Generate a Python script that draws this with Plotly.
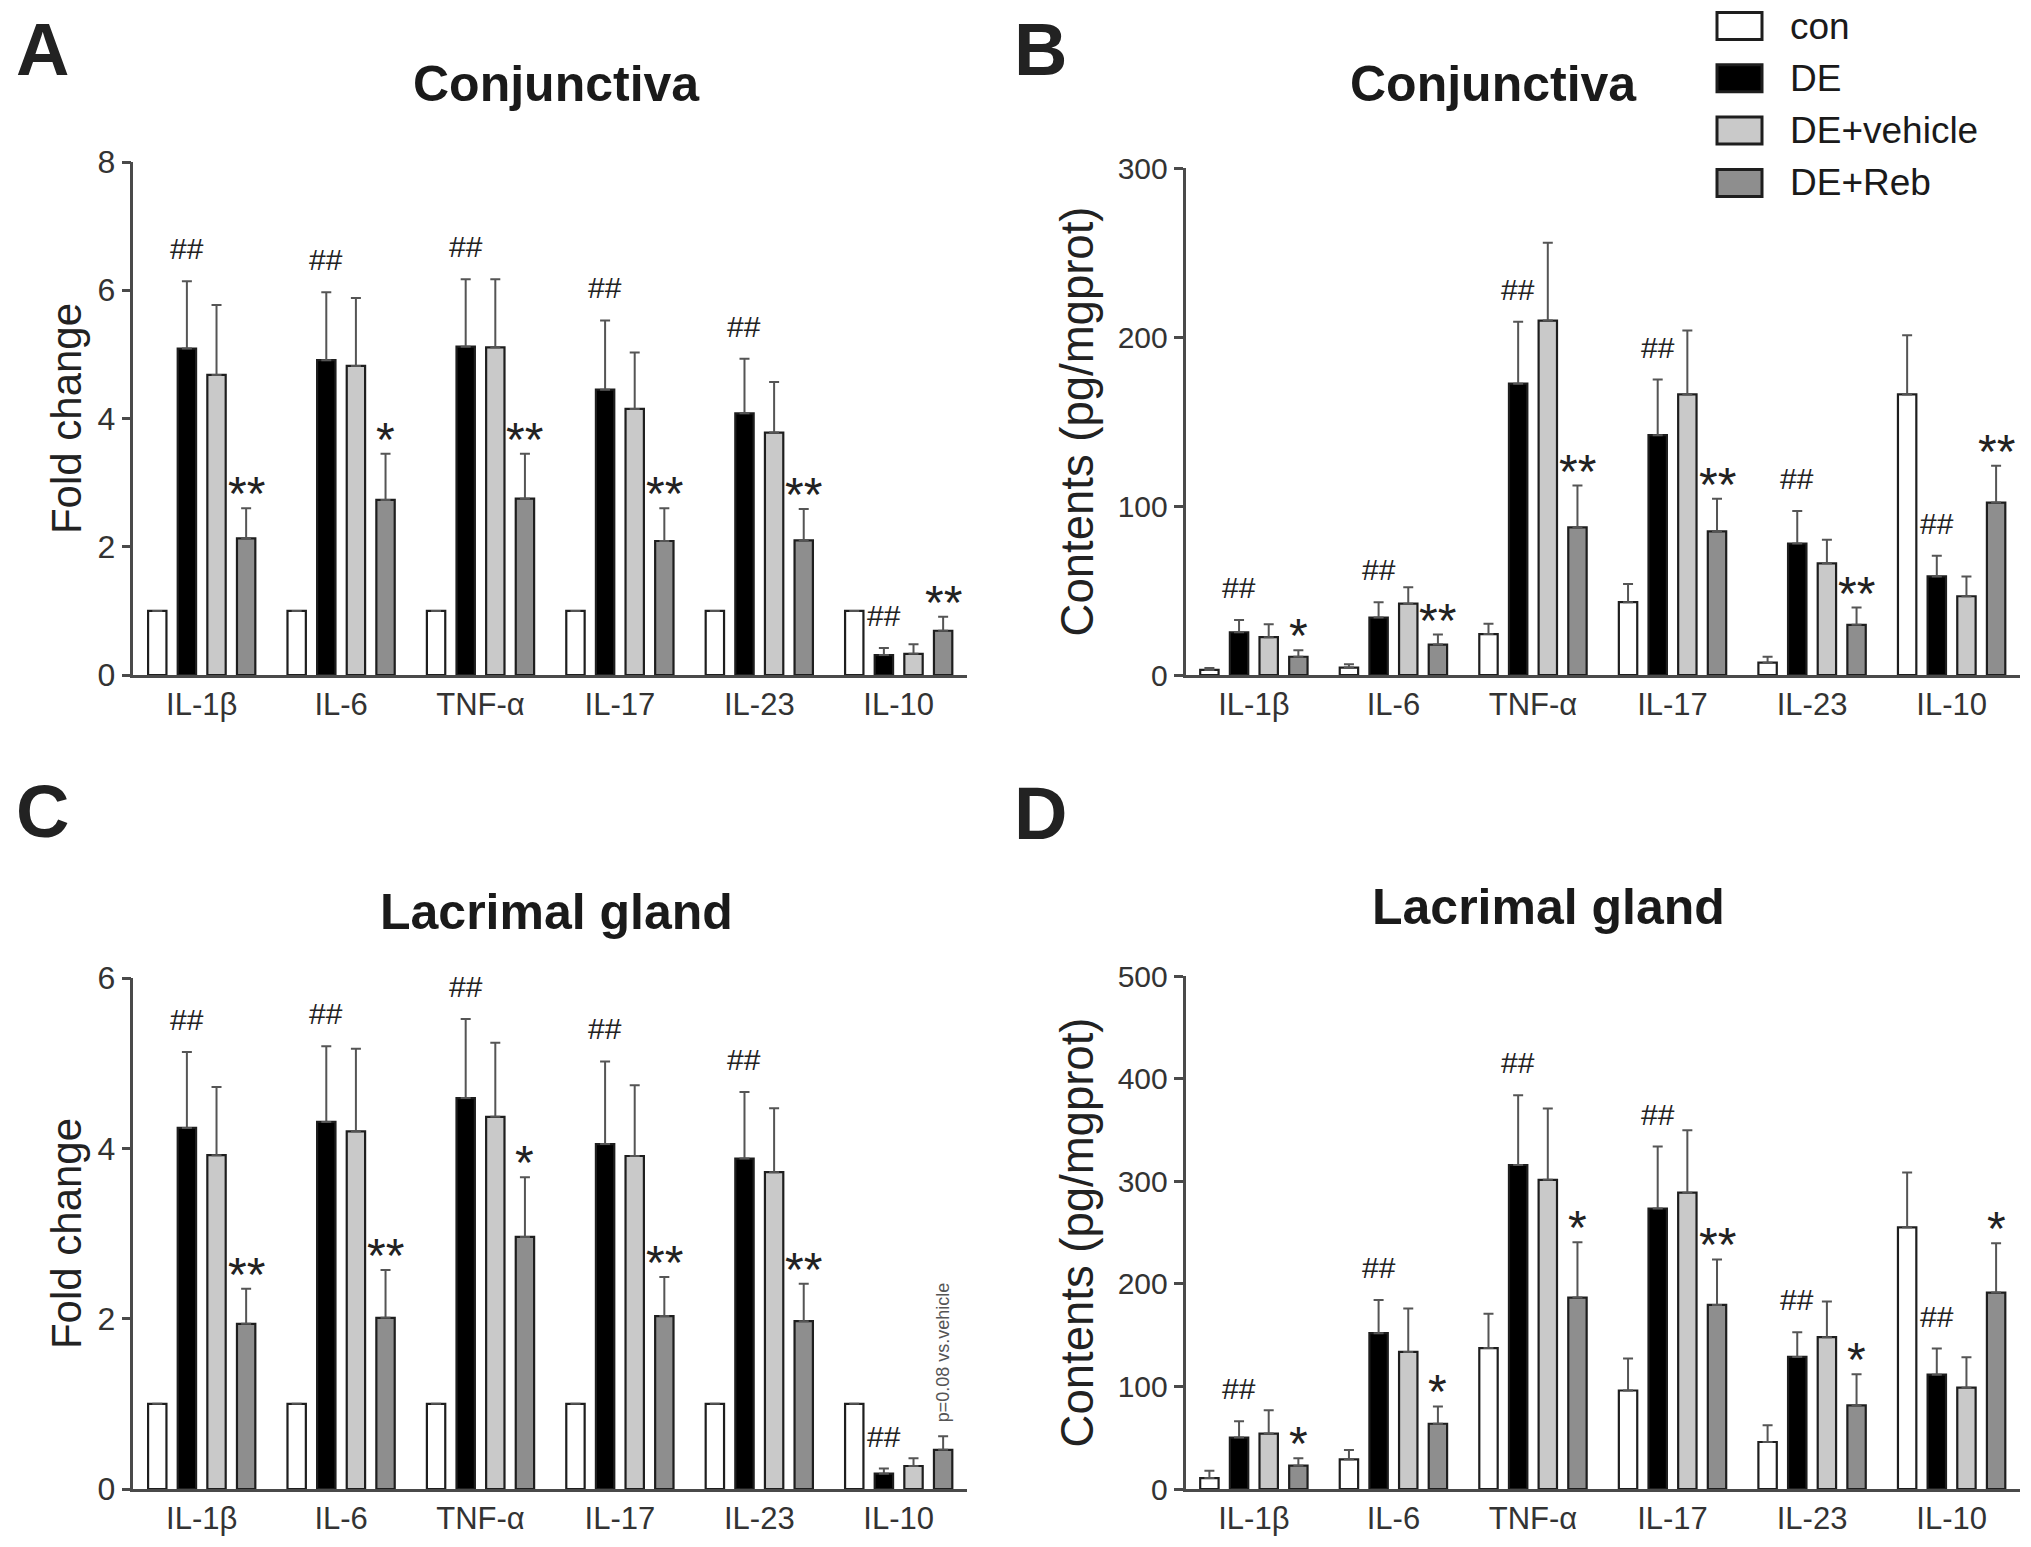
import plotly.graph_objects as go

W, H = 2031, 1547
FONT = "Liberation Sans, Arial, sans-serif"

cytokines = ["IL-1β", "IL-6", "TNF-α", "IL-17", "IL-23", "IL-10"]
groups = ["con", "DE", "DE+vehicle", "DE+Reb"]

# A: conjunctiva, fold change (mean, SEM)
a_con = [1, 1, 1, 1, 1, 1]
a_con_err = [0, 0, 0, 0, 0, 0]
a_de = [5.09, 4.91, 5.12, 4.45, 4.08, 0.31]
a_de_err = [1.05, 1.06, 1.05, 1.08, 0.85, 0.11]
a_veh = [4.68, 4.82, 5.11, 4.15, 3.78, 0.33]
a_veh_err = [1.09, 1.06, 1.06, 0.88, 0.79, 0.15]
a_reb = [2.13, 2.73, 2.75, 2.09, 2.10, 0.69]
a_reb_err = [0.47, 0.72, 0.70, 0.51, 0.49, 0.22]
a_de_sig = ["##", "##", "##", "##", "##", "##"]
a_reb_sig = ["**", "*", "**", "**", "**", "**"]

# B: conjunctiva, contents (pg/mgprot)
b_con = [3.0, 4.4, 24.2, 43.1, 7.3, 166]
b_con_err = [1.2, 2.0, 6.1, 10.8, 3.5, 35]
b_de = [25.3, 34.0, 172.4, 141.9, 77.8, 58.3]
b_de_err = [7.3, 9.0, 36.6, 32.9, 19.2, 12.2]
b_veh = [22.4, 42.2, 209.7, 166.0, 66.1, 46.6]
b_veh_err = [7.6, 9.7, 46.0, 37.9, 14.0, 11.7]
b_reb = [10.8, 18.0, 87.4, 85.0, 29.7, 102]
b_reb_err = [3.8, 5.9, 24.7, 19.3, 10.2, 21.8]
b_de_sig = ["##", "##", "##", "##", "##", "##"]
b_reb_sig = ["*", "**", "**", "**", "**", "**"]

# C: lacrimal gland, fold change
c_con = [1, 1, 1, 1, 1, 1]
c_con_err = [0, 0, 0, 0, 0, 0]
c_de = [4.24, 4.31, 4.59, 4.05, 3.88, 0.18]
c_de_err = [0.89, 0.89, 0.93, 0.97, 0.78, 0.06]
c_veh = [3.92, 4.20, 4.37, 3.91, 3.72, 0.27]
c_veh_err = [0.80, 0.97, 0.87, 0.83, 0.75, 0.09]
c_reb = [1.94, 2.01, 2.96, 2.03, 1.97, 0.46]
c_reb_err = [0.41, 0.56, 0.70, 0.46, 0.44, 0.16]
c_de_sig = ["##", "##", "##", "##", "##", "##"]
c_reb_sig = ["**", "**", "*", "**", "**", ""]
c_note = "p=0.08 vs.vehicle"

# D: lacrimal gland, contents (pg/mgprot)
d_con = [10.6, 28.9, 137.4, 96.0, 45.8, 255]
d_con_err = [7.2, 9.2, 33.3, 31.3, 16.4, 53.6]
d_de = [50.1, 151.9, 315.8, 273.4, 128.7, 111.4]
d_de_err = [15.9, 32.3, 68.0, 60.3, 24.1, 25.5]
d_veh = [54.0, 133.6, 301.3, 288.8, 148.0, 98.8]
d_veh_err = [22.7, 42.4, 69.5, 60.8, 34.7, 29.5]
d_reb = [22.7, 63.6, 186.6, 179.4, 81.5, 191.4]
d_reb_err = [7.2, 16.9, 54.0, 44.3, 30.4, 48.2]
d_de_sig = ["##", "##", "##", "##", "##", "##"]
d_reb_sig = ["*", "*", "*", "**", "*", "*"]

fills = ["white", "black", "#c9c9c9", "#8e8e8e"]
AX = "#4a4a4a"
BARGAP = 0.15
slot = (1 - BARGAP) / 4

panels = [
    dict(n="", letter="A", title="Conjunctiva", ytitle="Fold change", yr=[0, 8], dt=2, tf=32, tt=42, so=3,
         xd=[133.4, 967], yd=[675, 162], letter_xy=(42, 50), title_xy=(556, 84),
         means=[a_con, a_de, a_veh, a_reb], errs=[a_con_err, a_de_err, a_veh_err, a_reb_err],
         sig=(a_de_sig, a_reb_sig)),
    dict(n="2", letter="B", title="Conjunctiva", ytitle="Contents (pg/mgprot)", yr=[0, 300], dt=100, tf=30, tt=45.5,
         so=10, xd=[1185.5, 2020], yd=[675, 168], letter_xy=(1040, 50), title_xy=(1493, 84),
         means=[b_con, b_de, b_veh, b_reb], errs=[b_con_err, b_de_err, b_veh_err, b_reb_err],
         sig=(b_de_sig, b_reb_sig)),
    dict(n="3", letter="C", title="Lacrimal gland", ytitle="Fold change", yr=[0, 6], dt=2, tf=32, tt=42, so=3,
         xd=[133.4, 967], yd=[1489, 978], letter_xy=(42, 811), title_xy=(556, 912),
         means=[c_con, c_de, c_veh, c_reb], errs=[c_con_err, c_de_err, c_veh_err, c_reb_err],
         sig=(c_de_sig, c_reb_sig)),
    dict(n="4", letter="D", title="Lacrimal gland", ytitle="Contents (pg/mgprot)", yr=[0, 500], dt=100, tf=30, tt=45.5,
         so=10, xd=[1185.5, 2020], yd=[1489, 976], letter_xy=(1040, 813), title_xy=(1548, 907),
         means=[d_con, d_de, d_veh, d_reb], errs=[d_con_err, d_de_err, d_veh_err, d_reb_err],
         sig=(d_de_sig, d_reb_sig)),
]

fig = go.Figure()
annotations = []
layout = {}
xs = list(range(len(cytokines)))


def paper_text(text, x, y, size, color="#1a1a1a", xanchor="center"):
    return dict(text=text, xref="paper", yref="paper", x=x / W, y=1 - y / H,
                xanchor=xanchor, yanchor="middle", showarrow=False,
                font=dict(size=size, color=color, family=FONT))


for p in panels:
    xa, ya = "x" + p["n"], "y" + p["n"]
    for g, name in enumerate(groups):
        fig.add_trace(go.Bar(
            x=xs, y=p["means"][g], name=name, xaxis=xa, yaxis=ya, showlegend=False,
            marker=dict(color=fills[g], line=dict(color="#1e1e1e", width=2.2)),
            error_y=dict(type="data", symmetric=False, array=p["errs"][g],
                         arrayminus=[0] * len(xs), color="#555555", thickness=2, width=5),
        ))
    layout["xaxis" + p["n"]] = dict(
        domain=[p["xd"][0] / W, p["xd"][1] / W], anchor=ya, range=[-0.49, 5.49], automargin=False,
        tickvals=xs, ticktext=cytokines, ticks="", showline=True, linecolor=AX, linewidth=2.5,
        showgrid=False, zeroline=False, tickfont=dict(size=31, color="#333333", family=FONT),
    )
    layout["yaxis" + p["n"]] = dict(
        domain=[1 - p["yd"][0] / H, 1 - p["yd"][1] / H], anchor=xa, range=p["yr"], dtick=p["dt"],
        automargin=False,
        ticks="outside", ticklen=9, tickwidth=2.5, tickcolor=AX, showline=True, linecolor=AX,
        linewidth=2.5, showgrid=False, zeroline=False,
        tickfont=dict(size=p["tf"], color="#333333", family=FONT),
        title=dict(text=p["ytitle"], font=dict(size=p["tt"], color="#222222", family=FONT), standoff=p["so"]),
    )
    # panel letter and title
    annotations.append(paper_text("<b>%s</b>" % p["letter"], *p["letter_xy"], 74, "#222222"))
    annotations.append(paper_text("<b>%s</b>" % p["title"], *p["title_xy"], 50))
    # significance marks above DE and DE+Reb bars
    de_sig, reb_sig = p["sig"]
    for i in xs:
        top = p["means"][1][i] + p["errs"][1][i]
        annotations.append(dict(text=de_sig[i], xref=xa, yref=ya, x=i - 0.5 * slot, y=top,
                                xanchor="center", yanchor="bottom", yshift=14, showarrow=False,
                                font=dict(size=30, color="#222222", family=FONT)))
        if reb_sig[i]:
            top = p["means"][3][i] + p["errs"][3][i]
            annotations.append(dict(text=reb_sig[i], xref=xa, yref=ya, x=i + 1.5 * slot, y=top,
                                    xanchor="center", yanchor="bottom", yshift=-14, showarrow=False,
                                    font=dict(size=48, color="#222222", family=FONT)))

# note on IL-10 in panel C
i = len(cytokines) - 1
annotations.append(dict(text=c_note, xref="x3", yref="y3", x=i + 1.5 * slot, y=c_reb[i] + c_reb_err[i],
                        xanchor="center", yanchor="bottom", yshift=12, textangle=-90, showarrow=False,
                        font=dict(size=18, color="#555555", family=FONT)))

# legend (top right)
shapes = []
lx0, ly0, bw, bh, step = 1717, 26, 45, 27, 52.3
for g, name in enumerate(groups):
    cy = ly0 + g * step
    shapes.append(dict(type="rect", xref="paper", yref="paper",
                       x0=lx0 / W, x1=(lx0 + bw) / W, y0=1 - (cy + bh / 2) / H, y1=1 - (cy - bh / 2) / H,
                       fillcolor=fills[g], line=dict(color="#1e1e1e", width=3)))
    annotations.append(paper_text(name, 1788, cy, 37, xanchor="left"))

fig.update_layout(
    width=W, height=H, margin=dict(l=0, r=0, t=0, b=0, autoexpand=False),
    paper_bgcolor="white", plot_bgcolor="white",
    barmode="group", bargap=BARGAP, bargroupgap=0.38,
    font=dict(family=FONT), annotations=annotations, shapes=shapes, **layout,
)

fig.write_html("out.html", config={"displayModeBar": False},
               post_script="document.body.style.margin='0';")
